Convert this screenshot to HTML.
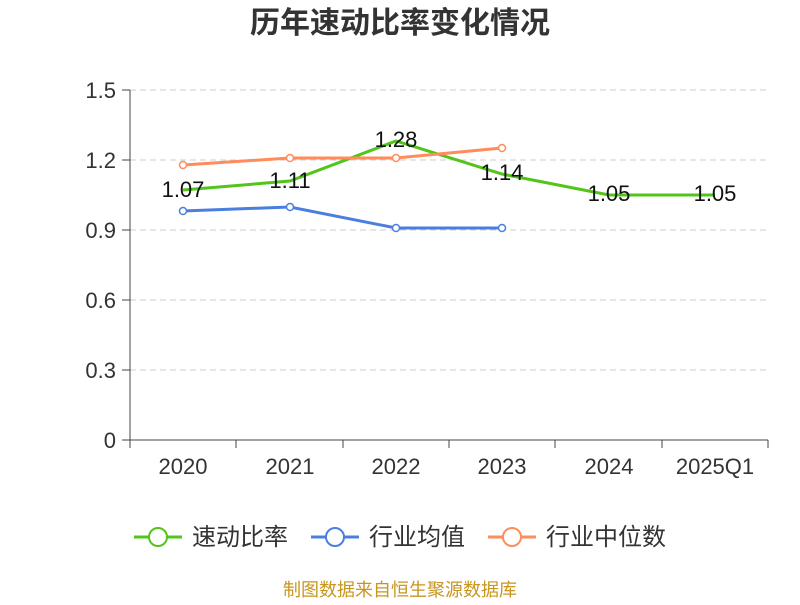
<!DOCTYPE html>
<html><head><meta charset="utf-8"><style>
body{margin:0;background:#fff;}
svg text{font-family:"Liberation Sans","Noto Sans CJK SC",sans-serif;}
</style></head><body>
<svg width="800" height="600" viewBox="0 0 800 600">
<text x="400" y="33" text-anchor="middle" font-size="30" font-weight="bold" fill="#333">历年速动比率变化情况</text>
<g stroke="#ccc" stroke-dasharray="6,4" stroke-width="1">
<line x1="130" y1="90" x2="768" y2="90"/>
<line x1="130" y1="160" x2="768" y2="160"/>
<line x1="130" y1="230" x2="768" y2="230"/>
<line x1="130" y1="300" x2="768" y2="300"/>
<line x1="130" y1="370" x2="768" y2="370"/>
</g>
<g stroke="#444" stroke-width="1">
<line x1="130" y1="90" x2="130" y2="440"/>
<line x1="130" y1="440" x2="768" y2="440"/>
<line x1="122" y1="90" x2="130" y2="90"/><line x1="122" y1="160" x2="130" y2="160"/><line x1="122" y1="230" x2="130" y2="230"/><line x1="122" y1="300" x2="130" y2="300"/><line x1="122" y1="370" x2="130" y2="370"/><line x1="122" y1="440" x2="130" y2="440"/>
<line x1="130" y1="440" x2="130" y2="448"/><line x1="236" y1="440" x2="236" y2="448"/><line x1="343" y1="440" x2="343" y2="448"/><line x1="449" y1="440" x2="449" y2="448"/><line x1="555" y1="440" x2="555" y2="448"/><line x1="662" y1="440" x2="662" y2="448"/><line x1="768" y1="440" x2="768" y2="448"/>
</g>
<g font-size="22" fill="#333" text-anchor="end">
<text x="116" y="98">1.5</text><text x="116" y="168">1.2</text><text x="116" y="238">0.9</text><text x="116" y="308">0.6</text><text x="116" y="378">0.3</text><text x="116" y="448">0</text>
</g>
<g font-size="22" fill="#333" text-anchor="middle">
<text x="183" y="474">2020</text><text x="290" y="474">2021</text><text x="396" y="474">2022</text><text x="502" y="474">2023</text><text x="609" y="474">2024</text><text x="715" y="474">2025Q1</text>
</g>
<polyline fill="none" stroke="#52c41a" stroke-width="3" points="183,190 290,181 396,141 502,174 609,195 715,195"/>
<polyline fill="none" stroke="#4a7fe0" stroke-width="3" points="183,211 290,207 396,228 502,228"/>
<g fill="#fff" stroke="#4a7fe0" stroke-width="1.5"><circle cx="183" cy="211" r="3.5"/><circle cx="290" cy="207" r="3.5"/><circle cx="396" cy="228" r="3.5"/><circle cx="502" cy="228" r="3.5"/></g>
<polyline fill="none" stroke="#ff8c5a" stroke-width="3" points="183,165 290,158 396,158 502,148"/>
<g fill="#fff" stroke="#ff8c5a" stroke-width="1.5"><circle cx="183" cy="165" r="3.5"/><circle cx="290" cy="158" r="3.5"/><circle cx="396" cy="158" r="3.5"/><circle cx="502" cy="148" r="3.5"/></g>
<g font-size="22" fill="#111" text-anchor="middle">
<text x="183" y="197">1.07</text><text x="290" y="188">1.11</text><text x="396" y="147">1.28</text><text x="502" y="180">1.14</text><text x="609" y="201">1.05</text><text x="715" y="201">1.05</text>
</g>
<g font-size="24" fill="#333">
<line x1="134" y1="537" x2="182" y2="537" stroke="#52c41a" stroke-width="3"/><circle cx="158" cy="537" r="9" fill="#fff" stroke="#52c41a" stroke-width="2"/>
<text x="192" y="545">速动比率</text>
<line x1="311" y1="537" x2="359" y2="537" stroke="#4a7fe0" stroke-width="3"/><circle cx="335" cy="537" r="9" fill="#fff" stroke="#4a7fe0" stroke-width="2"/>
<text x="369" y="545">行业均值</text>
<line x1="488" y1="537" x2="536" y2="537" stroke="#ff8c5a" stroke-width="3"/><circle cx="512" cy="537" r="9" fill="#fff" stroke="#ff8c5a" stroke-width="2"/>
<text x="546" y="545">行业中位数</text>
</g>
<text x="400" y="596" text-anchor="middle" font-size="18" fill="#c8951e">制图数据来自恒生聚源数据库</text>
</svg>
</body></html>
